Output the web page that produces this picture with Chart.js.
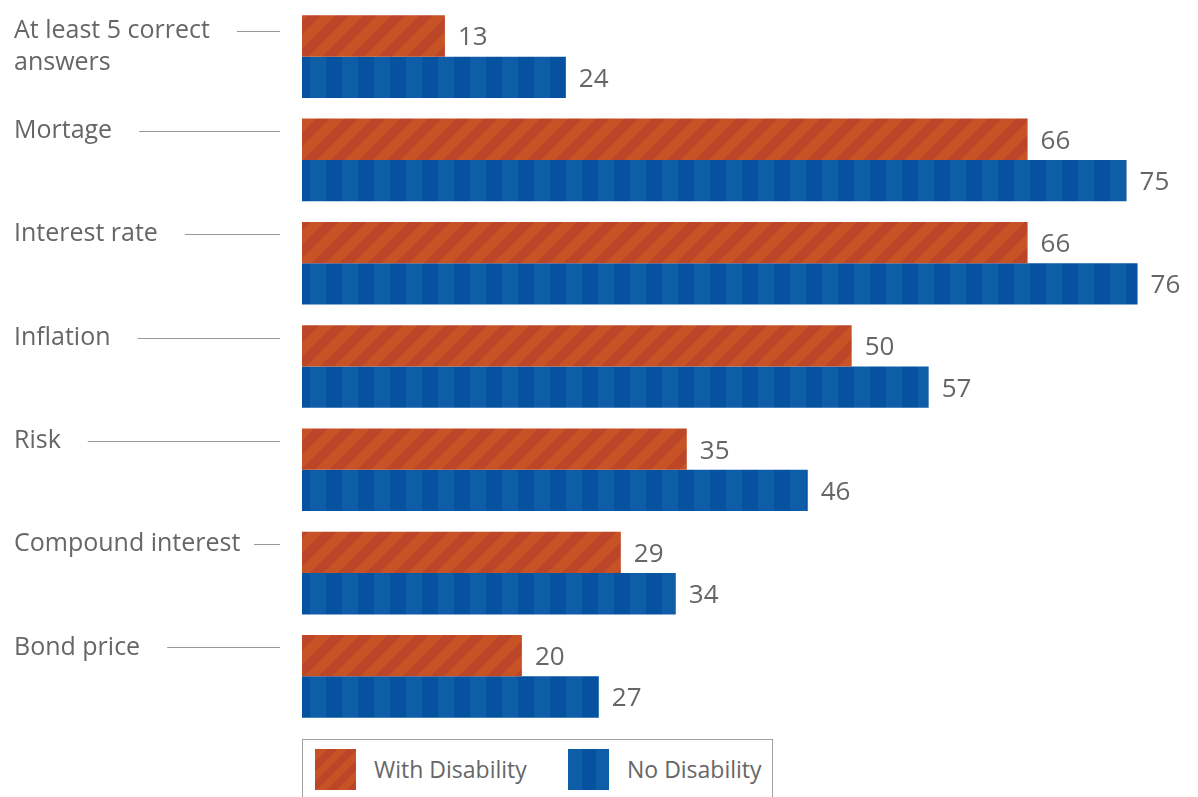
<!DOCTYPE html>
<html>
<head>
<meta charset="utf-8">
<script src="https://cdn.jsdelivr.net/npm/chart.js@4"></script>
<style>
    html, body { margin: 0; padding: 0; background: #fff; overflow: hidden; }
    body { width: 1198px; height: 797px; position: relative; font-family: "Open Sans", sans-serif; }
    #chartBox { position: absolute; left: 0; top: 0; width: 1198px; height: 735px; }
    #legend {
        position: absolute; left: 302px; top: 739px; width: 471px; height: 80px;
        border: 1px solid #a0a0a0; box-sizing: border-box;
    }
    .item { position: absolute; top: 9px; height: 41px; line-height: 41px; font-size: 23px; color: #666; }
    .swatch { position: absolute; top: 0; left: 0; width: 41px; height: 41px; }
    .item span { position: absolute; left: 59px; white-space: nowrap; }
</style>
</head>
<body>
<div id="chartBox"><canvas id="chart" width="1198" height="735"></canvas></div>
<div id="legend"></div>
<script>
// Chart data
const categories = [['At least 5 correct', 'answers'], 'Mortage', 'Interest rate', 'Inflation', 'Risk', 'Compound interest', 'Bond price'];
const seriesNames = ['With Disability', 'No Disability'];
const withDisability = [13, 66, 66, 50, 35, 29, 20];
const noDisability = [24, 75, 76, 57, 46, 34, 27];

const orangeDark = '#bb4628';
const orangeLight = '#c65226';
const blueDark = '#0652a0';
const blueLight = '#0e5da7';
const textColor = '#666666';

function hexToRgb(hex) {
    const n = parseInt(hex.slice(1), 16);
    return [(n >> 16) & 255, (n >> 8) & 255, n & 255];
}

// diagonal stripes for the orange series, built pixel by pixel so the tile is seamless
function diagonalPattern(period) {
    const c = document.createElement('canvas');
    c.width = period; c.height = period;
    const g = c.getContext('2d');
    const img = g.createImageData(period, period);
    const dark = hexToRgb(orangeDark), light = hexToRgb(orangeLight);
    for (let y = 0; y < period; y++) {
        for (let x = 0; x < period; x++) {
            const col = ((x + y) % period) < period / 2 ? light : dark;
            const k = (y * period + x) * 4;
            img.data[k] = col[0]; img.data[k + 1] = col[1]; img.data[k + 2] = col[2]; img.data[k + 3] = 255;
        }
    }
    g.putImageData(img, 0, 0);
    return g.createPattern(c, 'repeat');
}

// vertical stripes for the blue series
function verticalPattern() {
    const c = document.createElement('canvas');
    c.width = 32; c.height = 4;
    const g = c.getContext('2d');
    g.fillStyle = blueLight;
    g.fillRect(0, 0, 32, 4);
    g.fillStyle = blueDark;
    g.fillRect(6, 0, 16, 4);
    return g.createPattern(c, 'repeat');
}

const categoryLabels = {
    id: 'categoryLabels',
    afterDraw(chart) {
        const ctx = chart.ctx;
        const yScale = chart.scales.y;
        const pitch = yScale.height / categories.length;
        ctx.save();
        ctx.font = '25px "Open Sans"';
        ctx.fillStyle = textColor;
        ctx.textBaseline = 'middle';
        ctx.textAlign = 'left';
        categories.forEach((label, i) => {
            const lines = Array.isArray(label) ? label : [label];
            let y = yScale.getPixelForValue(i) - pitch * 0.28;
            if (lines.length > 1) y += 3;
            lines.forEach((line, j) => ctx.fillText(line, 14, y + j * 32));
            const widest = ctx.measureText(lines[0]).width;
            const start = Math.min(14 + widest + 27, 254);
            ctx.strokeStyle = '#999';
            ctx.lineWidth = 1;
            ctx.beginPath();
            ctx.moveTo(start, Math.round(y) + 0.5);
            ctx.lineTo(280, Math.round(y) + 0.5);
            ctx.stroke();
        });
        ctx.restore();
    }
};

const valueLabels = {
    id: 'valueLabels',
    afterDatasetsDraw(chart) {
        const ctx = chart.ctx;
        ctx.save();
        ctx.font = '26px "Open Sans"';
        ctx.fillStyle = textColor;
        ctx.textBaseline = 'middle';
        ctx.textAlign = 'left';
        chart.data.datasets.forEach((ds, d) => {
            chart.getDatasetMeta(d).data.forEach((bar, i) => {
                ctx.fillText(String(ds.data[i]), bar.x + 13, bar.y + 2);
            });
        });
        ctx.restore();
    }
};

const chart = new Chart(document.getElementById('chart'), {
    type: 'bar',
    data: {
        labels: categories,
        datasets: [
            { label: seriesNames[0], data: withDisability, backgroundColor: diagonalPattern(28) },
            { label: seriesNames[1], data: noDisability, backgroundColor: verticalPattern() }
        ]
    },
    options: {
        indexAxis: 'y',
        responsive: false,
        animation: false,
        layout: { padding: { left: 302, right: 0, top: 5, bottom: 7 } },
        datasets: { bar: { categoryPercentage: 0.8, barPercentage: 1.0, borderWidth: 0 } },
        plugins: { legend: { display: false }, tooltip: { enabled: false } },
        scales: {
            x: { display: false, min: 0, max: 81.5 },
            y: { display: false }
        }
    },
    plugins: [categoryLabels, valueLabels]
});

// legend
const legend = document.getElementById('legend');
const swatches = [
    `repeating-linear-gradient(-45deg, ${orangeDark} 0 7px, ${orangeLight} 7px 14px)`,
    `linear-gradient(90deg, ${blueLight} 0 14px, ${blueDark} 14px 28px, ${blueLight} 28px 41px)`
];
const lefts = [12, 265];
seriesNames.forEach((name, i) => {
    const item = document.createElement('div');
    item.className = 'item';
    item.style.left = lefts[i] + 'px';
    item.innerHTML = `<div class="swatch" style="background:${swatches[i]}"></div><span>${name}</span>`;
    legend.appendChild(item);
});
</script>
</body>
</html>
